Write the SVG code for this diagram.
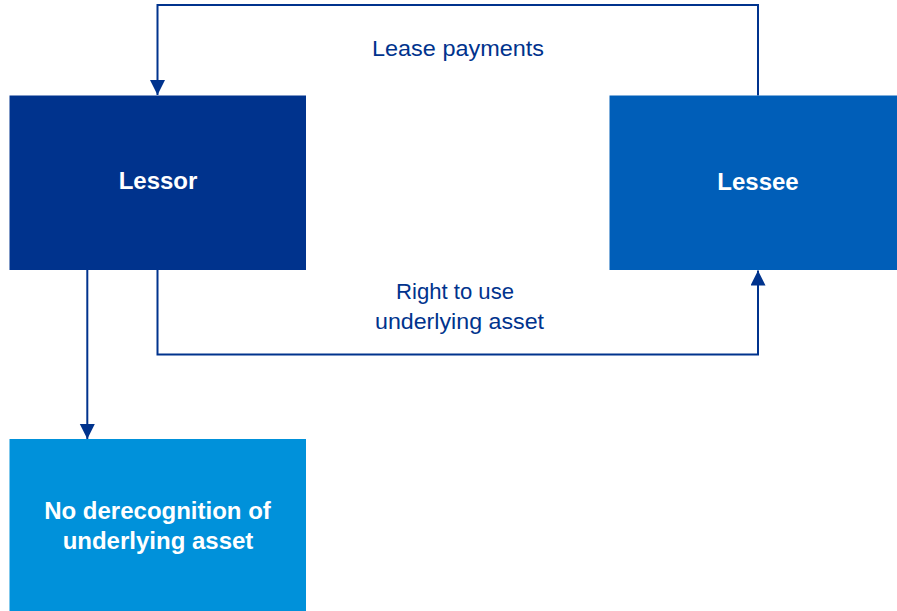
<svg xmlns="http://www.w3.org/2000/svg" width="897" height="611" viewBox="0 0 897 611">
<defs>
<style>
.conn{fill:none;stroke:#00338D;stroke-width:2;marker-end:url(#arr)}
.nt{font-family:"Liberation Sans",Arial,sans-serif;font-weight:bold;font-size:24px;fill:#FFFFFF;text-anchor:middle}
.lbl{font-family:"Liberation Sans",Arial,sans-serif;font-size:21.5px;fill:#00338D}
</style>
<marker id="arr" markerUnits="userSpaceOnUse" markerWidth="16" markerHeight="16" refX="15" refY="7.5" orient="auto" viewBox="0 0 16 16">
<path d="M0,0 L15,7.5 L0,15 z" fill="#00338D"/>
</marker>
</defs>
<rect width="897" height="611" fill="#FFFFFF"/>
<g id="connectors">
<path class="conn" d="M758,95.5 V5 H157.5 V95"/>
<path class="conn" d="M157.5,270 V354.5 H758 V270.5"/>
<path class="conn" d="M87.3,270 V439"/>
</g>
<g id="labels">
<text class="lbl" x="372" y="56" textLength="172" lengthAdjust="spacingAndGlyphs">Lease payments</text>
<text class="lbl" x="396" y="299" textLength="118" lengthAdjust="spacingAndGlyphs">Right to use</text>
<text class="lbl" x="375" y="329" textLength="169" lengthAdjust="spacingAndGlyphs">underlying asset</text>
</g>
<g id="lessor">
<rect x="9.5" y="95.5" width="296.5" height="174.5" fill="#00338D"/>
<text class="nt" x="158" y="189">Lessor</text>
</g>
<g id="lessee">
<rect x="609.5" y="95.5" width="290" height="174.5" fill="#005EB8"/>
<text class="nt" x="758" y="190">Lessee</text>
</g>
<g id="no-derecognition">
<rect x="9.5" y="439" width="296.5" height="175" fill="#0091DA"/>
<text class="nt" x="157.5" y="519">No derecognition of</text>
<text class="nt" x="158" y="549">underlying asset</text>
</g>
</svg>
